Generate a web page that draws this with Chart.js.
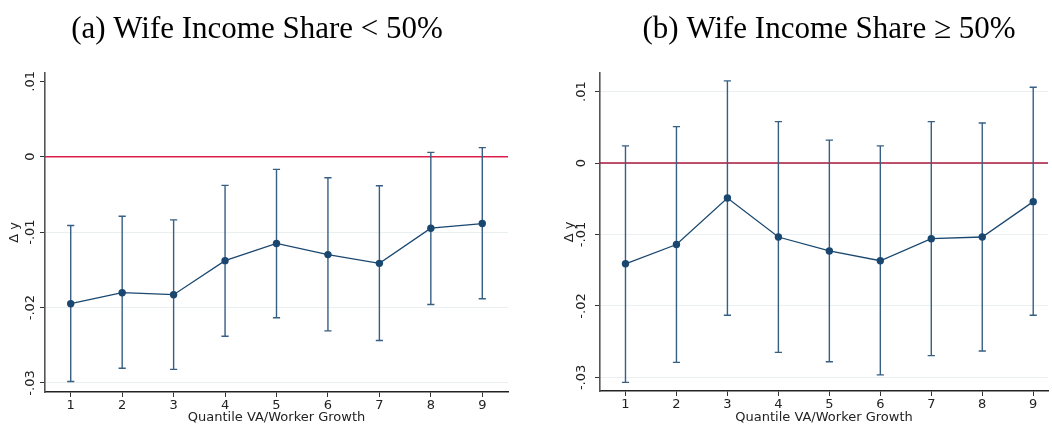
<!DOCTYPE html>
<html>
<head>
<meta charset="utf-8">
<script src="https://cdn.jsdelivr.net/npm/chart.js@4.4.1/dist/chart.umd.min.js"></script>
<style>
  body { margin: 0; background: #fff; }
  .panel { position: absolute; top: 0; height: 425px; }
</style>
</head>
<body>
<div class="panel" style="left:0px;width:526px"><canvas id="chartA"></canvas></div>
<div class="panel" style="left:548px;width:504px"><canvas id="chartB"></canvas></div>
<script>
// quantiles on the x axis
var quantiles = [1, 2, 3, 4, 5, 6, 7, 8, 9];

// (a) wife income share < 50%
var estA = [-0.01949, -0.01803, -0.0183, -0.01378, -0.0115, -0.01298, -0.01414, -0.00948, -0.00886];
var hiA = [-0.00912, -0.00789, -0.00838, -0.0038, -0.00168, -0.00279, -0.00386, 0.00058, 0.0012];
var loA = [-0.0298, -0.02806, -0.0282, -0.0238, -0.02136, -0.02309, -0.02438, -0.01959, -0.01883];

// (b) wife income share >= 50%
var estB = [-0.0141, -0.0114, -0.0049, -0.01035, -0.0123, -0.01367, -0.01059, -0.01035, -0.0054];
var hiB = [0.0024, 0.0051, 0.0115, 0.0058, 0.0032, 0.0024, 0.0058, 0.0056, 0.0106];
var loB = [-0.0307, -0.0279, -0.0213, -0.0265, -0.0278, -0.02965, -0.02695, -0.0263, -0.0213];

var yTicks = [-0.03, -0.02, -0.01, 0, 0.01];
var yTickLabels = ["-.03", "-.02", "-.01", "0", ".01"];

var navy = "#1a476f";
var ciColor = "#375f84";
var axisFont = "'DejaVu Sans', sans-serif";

// zero line, error bars, rotated y labels and the panel title
var panelDecor = {
    id: "panelDecor",
    beforeDatasetsDraw: function (chart, args, opts) {
        var ctx = chart.ctx, xs = chart.scales.x, ys = chart.scales.y, area = chart.chartArea;
        ctx.save();
        var y0 = ys.getPixelForValue(0);
        ctx.strokeStyle = opts.zeroColor;
        ctx.lineWidth = 1.4;
        ctx.beginPath();
        ctx.moveTo(area.left, y0);
        ctx.lineTo(area.right, y0);
        ctx.stroke();

        ctx.strokeStyle = ciColor;
        ctx.lineWidth = 1.4;
        for (var i = 0; i < quantiles.length; i++) {
            var px = xs.getPixelForValue(quantiles[i]);
            var pLo = ys.getPixelForValue(opts.lo[i]);
            var pHi = ys.getPixelForValue(opts.hi[i]);
            ctx.beginPath();
            ctx.moveTo(px, pLo);
            ctx.lineTo(px, pHi);
            ctx.moveTo(px - 3.6, pLo);
            ctx.lineTo(px + 3.6, pLo);
            ctx.moveTo(px - 3.6, pHi);
            ctx.lineTo(px + 3.6, pHi);
            ctx.stroke();
        }
        ctx.restore();
    },
    afterDraw: function (chart, args, opts) {
        var ctx = chart.ctx, ys = chart.scales.y;
        ctx.save();
        ctx.fillStyle = "#222";
        ctx.font = "13px " + axisFont;
        ctx.textAlign = "center";
        ctx.textBaseline = "middle";
        for (var i = 0; i < yTicks.length; i++) {
            var py = ys.getPixelForValue(yTicks[i]);
            ctx.save();
            ctx.translate(opts.labelX, py);
            ctx.rotate(-Math.PI / 2);
            ctx.fillText(yTickLabels[i], 0, 0);
            ctx.restore();
        }
        ctx.fillStyle = "#000";
        ctx.font = "31px 'Liberation Serif', serif";
        ctx.textBaseline = "alphabetic";
        ctx.fillText(opts.title, opts.titleX, 38);
        ctx.restore();
    }
};

function makePanel(id, est, yMin, yMax, xMax, yWidth, xHeight, padRight, titlePad, gridCol, opts) {
    return new Chart(id, {
        type: "line",
        data: {
            datasets: [{
                data: quantiles.map(function (q, i) { return { x: q, y: est[i] }; }),
                borderColor: navy,
                backgroundColor: navy,
                borderWidth: 1.3,
                pointRadius: 3.7,
                pointBorderWidth: 0,
                fill: false,
                tension: 0
            }]
        },
        options: {
            responsive: true,
            maintainAspectRatio: false,
            animation: false,
            layout: { padding: { top: 73, right: padRight, left: 0, bottom: 0 } },
            plugins: {
                legend: { display: false },
                tooltip: { enabled: false },
                panelDecor: opts
            },
            scales: {
                x: {
                    type: "linear",
                    min: 0.5,
                    max: xMax,
                    afterBuildTicks: function (s) { s.ticks = quantiles.map(function (q) { return { value: q }; }); },
                    afterFit: function (s) { s.height = xHeight; },
                    grid: { drawOnChartArea: false, drawTicks: true, tickLength: 5, tickColor: "#333" },
                    border: { color: "#222", width: 1.5 },
                    ticks: { color: "#222", font: { family: axisFont, size: 13 }, padding: 1, maxRotation: 0 },
                    title: { display: true, text: "Quantile VA/Worker Growth", color: "#222",
                        font: { family: axisFont, size: 13 }, padding: { top: 0, bottom: 0 } }
                },
                y: {
                    type: "linear",
                    min: yMin,
                    max: yMax,
                    afterBuildTicks: function (s) { s.ticks = yTicks.map(function (v) { return { value: v }; }); },
                    afterFit: function (s) { s.width = yWidth; },
                    grid: { color: gridCol, lineWidth: 1, drawTicks: true, tickLength: 5, tickColor: "#333" },
                    border: { color: "#555", width: 1.6 },
                    ticks: { display: false },
                    title: { display: true, text: "Δ y", color: "#222",
                        font: { family: axisFont, size: 13 }, padding: { top: titlePad, bottom: 0 } }
                }
            }
        },
        plugins: [panelDecor]
    });
}

// left panel has no gridline at .01 in the original
makePanel("chartA", estA, -0.0312, 0.0111, 9.5, 45, 33, 18, 7,
    function (c) { return c.tick && c.tick.value > 0.005 ? "rgba(0,0,0,0)" : "#eaf0f2"; },
    { lo: loA, hi: hiA, zeroColor: "#dc1e4b", labelX: 31, titleX: 257, title: "(a) Wife Income Share < 50%" });

makePanel("chartB", estB, -0.0319, 0.0126, 9.29, 52, 34, 0, 14, "#eaf0f2",
    { lo: loB, hi: hiB, zeroColor: "#a8173c", labelX: 34, titleX: 281, title: "(b) Wife Income Share ≥ 50%" });
</script>
</body>
</html>
